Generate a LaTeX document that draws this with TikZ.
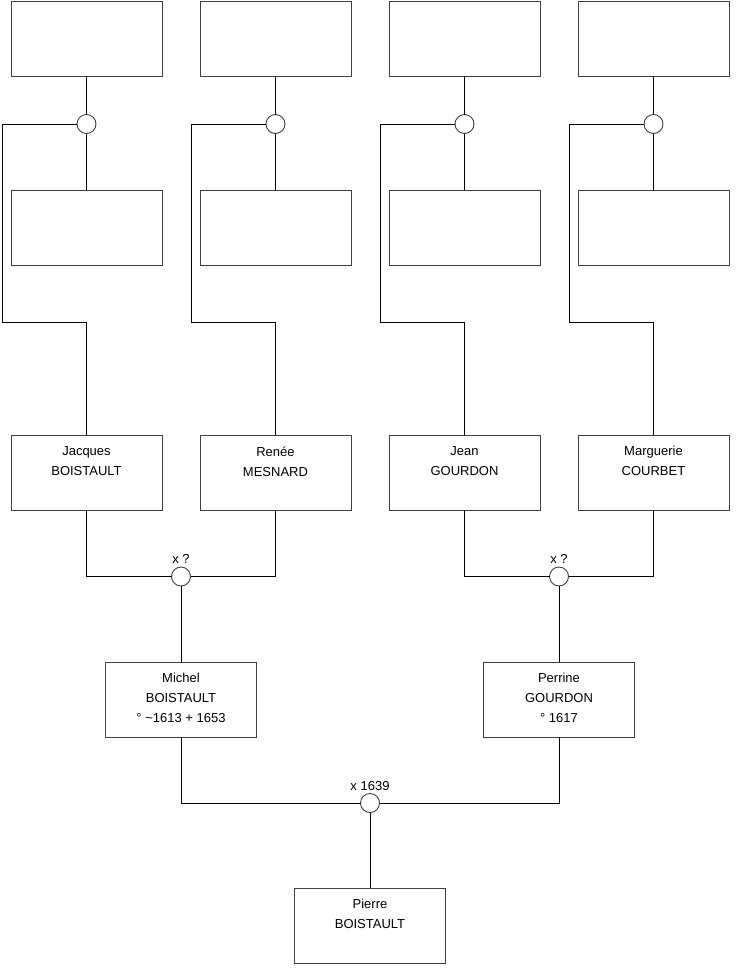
\documentclass[tikz,border=0pt]{standalone}
\usepackage{fontspec}
\setmainfont{Liberation Sans}
\usetikzlibrary{positioning}

\begin{document}
\begin{tikzpicture}[
    x=1pt, y=-1pt,
    line width=0.9pt,
    who/.style={font=\fontsize{13}{20}\selectfont, align=center, inner sep=0pt,
      execute at begin node=\strut},
    wed/.style={font=\fontsize{13}{20}\selectfont, inner sep=0pt},
    box/.style={draw=black!75, rectangle, minimum width=151pt, minimum height=75pt,
      inner sep=0pt, outer sep=0pt},
    person/.style={box, label={[who, anchor=north, label distance=-11pt]north:#1}},
    off/.style={every label/.append style={xshift=#1}},
    ring/.style={draw=black!75, fill=white, circle, minimum size=19pt,
      inner sep=0pt, outer sep=0pt},
    wedlab/.style={label={[wed, anchor=base, label distance=3.5pt]north:#1}},
    link/.style={draw=black},
  ]
  \useasboundingbox (0,0) rectangle (740,975);

  % top two rows: empty boxes and their unions
  \foreach \i in {1,...,4} {
    \node[box] (fa\i) at ({86.5+189*(\i-1)}, 38.5) {};
    \node[box] (mo\i) at ({86.5+189*(\i-1)}, 227.5) {};
    \node[ring] (u\i) at ({86.5+189*(\i-1)}, 124) {};
  }

  % grandparents
  \node[person={Jacques\\BOISTAULT}, off=3pt] (jacques) at (86.5,472.5) {};
  \node[person={Renée\\MESNARD}, off=4pt] (renee) at (275.5,472.5) {};
  \node[person={Jean\\GOURDON}, off=5pt] (jean) at (464.5,472.5) {};
  \node[person={Marguerie\\COURBET}, off=6pt] (marguerie) at (653.5,472.5) {};

  % parents
  \node[ring, wedlab={x ?}] (w1) at (181,576.5) {};
  \node[ring, wedlab={x ?}] (w2) at (559,576.5) {};
  \node[person={Michel\\BOISTAULT\\° \textasciitilde1613 + 1653}] (michel) at (181,699.5) {};
  \node[person={Perrine\\GOURDON\\° 1617}] (perrine) at (559,699.5) {};

  % child
  \node[ring, wedlab={x 1639}] (w3) at (370,803) {};
  \node[person={Pierre\\BOISTAULT}] (pierre) at (370,925.5) {};

  % links down from the top unions
  \foreach \i/\kid in {1/jacques, 2/renee, 3/jean, 4/marguerie} {
    \coordinate (k\i) at ({2+189*(\i-1)}, 322);
    \draw[link] (fa\i) -- (u\i) -- (mo\i);
    \draw[link] (u\i.west) -| (k\i) -| (\kid.north);
  }

  % marriages
  \draw[link] (jacques.south) |- (w1.west);
  \draw[link] (renee.south) |- (w1.east);
  \draw[link] (w1) -- (michel);
  \draw[link] (jean.south) |- (w2.west);
  \draw[link] (marguerie.south) |- (w2.east);
  \draw[link] (w2) -- (perrine);
  \draw[link] (michel.south) |- (w3.west);
  \draw[link] (perrine.south) |- (w3.east);
  \draw[link] (w3) -- (pierre);
\end{tikzpicture}
\end{document}
